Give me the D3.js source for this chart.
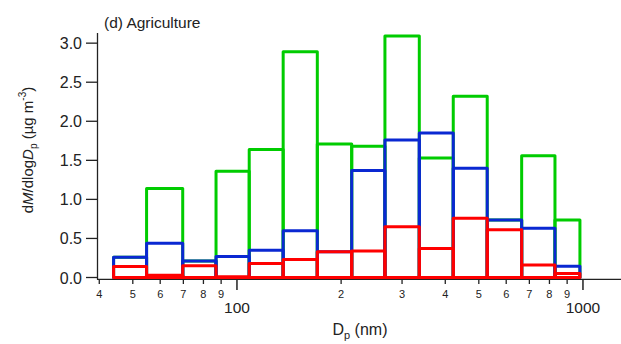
<!DOCTYPE html>
<html>
<head>
<meta charset="utf-8">
<script src="https://cdn.jsdelivr.net/npm/d3@7"></script>
<style>
  body { margin: 0; background: #fff; }
  text { font-family: "Liberation Sans", Arial, sans-serif; fill: #222; }
</style>
</head>
<body>
<svg id="chart" width="621" height="344"></svg>
<script>
// bin edges (nm)
const binEdges = [44, 54.8, 69.7, 87, 108.5, 136, 170.7, 214.6, 267.7, 336.5, 421.8, 528.8, 665, 830, 980];
// dM/dlogDp per bin
const greenVals = [0.26, 1.14, 0.21, 1.36, 1.64, 2.89, 1.71, 1.68, 3.09, 1.53, 2.32, 0.735, 1.56, 0.735];
const blueVals  = [0.26, 0.44, 0.21, 0.27, 0.35, 0.60, 0.33, 1.37, 1.76, 1.85, 1.40, 0.735, 0.63, 0.145];
const redVals   = [0.14, 0.03, 0.15, 0.01, 0.18, 0.23, 0.33, 0.34, 0.65, 0.37, 0.76, 0.61, 0.16, 0.05];
const yTicks = [0, 0.5, 1.0, 1.5, 2.0, 2.5, 3.0];
const xMinorTicks = [40, 50, 60, 70, 80, 90, 200, 300, 400, 500, 600, 700, 800, 900];
const xMajorTicks = [100, 1000];

const svg = d3.select('#chart');

const x = d3.scaleLog().domain([39.4, 1288]).range([97, 621]);
const y = d3.scaleLinear().domain([0, 3.13]).range([277.5, 33]);

const series = [
  { vals: greenVals, color: '#00cc00' },
  { vals: blueVals, color: '#0a28d2' },
  { vals: redVals, color: '#ff0000' },
];

// y axis
const yAxis = svg.append('g');
yAxis.append('line')
  .attr('x1', 97.5).attr('x2', 97.5)
  .attr('y1', y.range()[1]).attr('y2', 279.5)
  .attr('stroke', '#222').attr('stroke-width', 1.3);
yTicks.forEach((t) => {
  yAxis.append('line')
    .attr('x1', 86).attr('x2', 97.5)
    .attr('y1', y(t)).attr('y2', y(t))
    .attr('stroke', '#222').attr('stroke-width', 1.3);
  yAxis.append('text')
    .attr('x', 82).attr('y', y(t) + 6)
    .attr('text-anchor', 'end')
    .style('font-size', '16px')
    .text(t.toFixed(1));
});

// x axis
const xAxis = svg.append('g');
xAxis.append('line')
  .attr('x1', 97).attr('x2', 621)
  .attr('y1', 279.3).attr('y2', 279.3)
  .attr('stroke', '#222').attr('stroke-width', 1.3);
xMinorTicks.forEach((t) => {
  xAxis.append('line')
    .attr('x1', x(t)).attr('x2', x(t))
    .attr('y1', 279.3).attr('y2', 284)
    .attr('stroke', '#222').attr('stroke-width', 1.3);
  xAxis.append('text')
    .attr('x', x(t)).attr('y', 297.5)
    .attr('text-anchor', 'middle')
    .style('font-size', '11px')
    .text(String(t).charAt(0));
});
xMajorTicks.forEach((t) => {
  xAxis.append('line')
    .attr('x1', x(t)).attr('x2', x(t))
    .attr('y1', 279.3).attr('y2', 290)
    .attr('stroke', '#222').attr('stroke-width', 1.5);
  xAxis.append('text')
    .attr('x', x(t)).attr('y', 313)
    .attr('text-anchor', 'middle')
    .style('font-size', '15.5px')
    .text(t);
});

// bars: outlined rectangles per bin
series.forEach((s) => {
  svg.append('g').selectAll('rect')
    .data(s.vals)
    .join('rect')
    .attr('x', (d, i) => x(binEdges[i]))
    .attr('width', (d, i) => x(binEdges[i + 1]) - x(binEdges[i]))
    .attr('y', (d) => y(d))
    .attr('height', (d) => y(0) - y(d))
    .attr('fill', 'none')
    .attr('stroke', s.color)
    .attr('stroke-width', 3)
    .attr('stroke-linejoin', 'round');
});

// title
svg.append('text')
  .attr('x', 104).attr('y', 28)
  .style('font-size', '15.5px')
  .text('(d) Agriculture');

// x label
const xl = svg.append('text')
  .attr('x', 360).attr('y', 335)
  .attr('text-anchor', 'middle')
  .style('font-size', '16px');
xl.append('tspan').text('D');
xl.append('tspan').attr('dy', 4).style('font-size', '11px').text('p');
xl.append('tspan').attr('dy', -4).text(' (nm)');

// y label
const yl = svg.append('text')
  .attr('transform', 'translate(33,150) rotate(-90)')
  .attr('text-anchor', 'middle')
  .style('font-size', '15px');
yl.append('tspan').text('d');
yl.append('tspan').style('font-style', 'italic').text('M');
yl.append('tspan').text('/dlog');
yl.append('tspan').style('font-style', 'italic').text('D');
yl.append('tspan').attr('dy', 4).style('font-size', '10px').text('p');
yl.append('tspan').attr('dy', -4).text(' (µg m');
yl.append('tspan').attr('dy', -7).style('font-size', '10px').text('-3');
yl.append('tspan').attr('dy', 7).text(')');
</script>
</body>
</html>
